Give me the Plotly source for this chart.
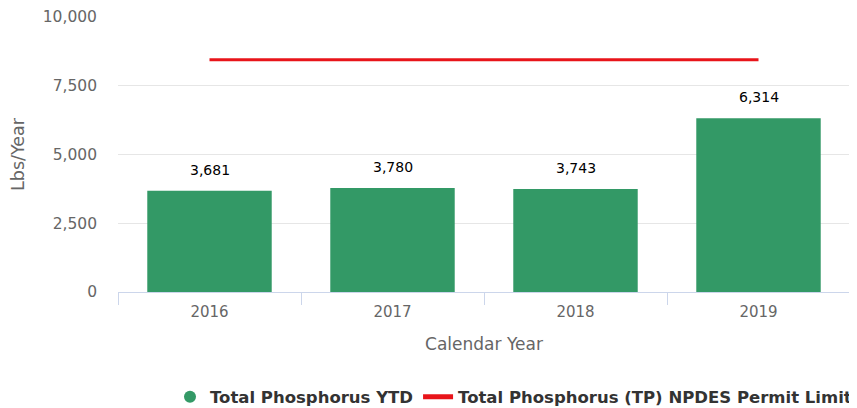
import plotly.graph_objects as go

years = ["2016", "2017", "2018", "2019"]
tp_ytd = [3681, 3780, 3743, 6314]
permit_limit = [8448, 8448, 8448, 8448]
y_ticks = [0, 2500, 5000, 7500, 10000]
y_tick_labels = ["0", "2,500", "5,000", "7,500", "10,000"]

GREEN = "#339966"
RED = "#e8141a"
FONT = "DejaVu Sans"

fig = go.Figure()
fig.add_trace(go.Bar(
    x=years, y=tp_ytd, marker=dict(color=GREEN, line=dict(width=0)),
    showlegend=False, name="Total Phosphorus YTD", hoverinfo="x+y",
))
for i, v in enumerate(tp_ytd):
    fig.add_annotation(x=i, y=v, text=f"{v:,}", showarrow=False,
                       yanchor="middle", yshift=21,
                       font=dict(family=FONT, size=14, color="#000000"))
fig.add_trace(go.Scatter(
    x=[None], y=[None], mode="markers", name="Total Phosphorus YTD",
    marker=dict(color=GREEN, size=17, symbol="circle"),
))
fig.add_trace(go.Scatter(
    x=years, y=permit_limit, mode="lines", name="Total Phosphorus (TP) NPDES Permit Limit",
    line=dict(color=RED, width=3),
))

# page body has an 8px default margin, so the figure is sized to fit the window
fig.update_layout(
    width=849, height=400,
    margin=dict(l=110, r=7, t=9, b=116, autoexpand=False),
    plot_bgcolor="white", paper_bgcolor="white",
    bargap=0.32,
    font=dict(family=FONT, color="#666666", size=15),
    legend=dict(orientation="h", x=1.0, xref="container", xanchor="right",
                yref="container", y=0.0275, yanchor="middle",
                font=dict(family=FONT, size=16.5, color="#333333", weight="bold"),
                itemsizing="constant", traceorder="normal"),
    xaxis=dict(
        type="category", categoryorder="array", categoryarray=years,
        range=[-0.5, len(years) - 0.5],
        title=dict(text="Calendar Year", font=dict(size=17, color="#666666"), standoff=18),
        tickfont=dict(size=15, color="#666666"),
        showgrid=False, showline=True, linecolor="#ccd6eb", linewidth=1,
        ticks="outside", ticklen=12, tickcolor="#ccd6eb", tickson="boundaries",
        ticklabelstandoff=6, automargin=False,
    ),
    yaxis=dict(
        title=dict(text="Lbs/Year", font=dict(size=17.5, color="#666666"), standoff=20),
        range=[0, 10000], tickvals=y_ticks, ticktext=y_tick_labels,
        tickfont=dict(size=15.5, color="#666666"), ticklabeloverflow="allow",
        showgrid=True, gridcolor="#e6e6e6", gridwidth=1, zeroline=False,
        ticks="", ticklabelstandoff=20, automargin=False,
    ),
)

fig.write_html("out.html")
